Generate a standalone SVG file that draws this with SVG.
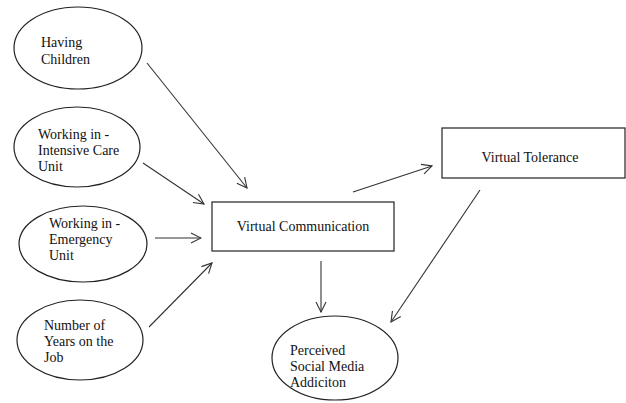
<svg xmlns="http://www.w3.org/2000/svg" width="626" height="403" viewBox="0 0 626 403">
<style>
.n{fill:#fff;stroke:#222;stroke-width:1.2}
.t{font-family:'Liberation Serif','Times New Roman',Times,serif;font-size:14px;fill:#111}
.c{fill:none;stroke:#333;stroke-width:1.1}
</style>
<defs>
<marker id="ah" viewBox="0 0 12 12" refX="11" refY="6" markerWidth="12" markerHeight="12" markerUnits="userSpaceOnUse" orient="auto">
<polyline points="1,1 11,6 1,11" fill="none" stroke="#333" stroke-width="1.1"/>
</marker>
</defs>
<rect width="626" height="403" fill="#fff"/>
<g id="connectors">
<line class="c" x1="147" y1="63" x2="247" y2="188" marker-end="url(#ah)"/>
<line class="c" x1="143" y1="163" x2="204" y2="204" marker-end="url(#ah)"/>
<line class="c" x1="155" y1="238" x2="201" y2="238" marker-end="url(#ah)"/>
<line class="c" x1="149" y1="327" x2="212" y2="263" marker-end="url(#ah)"/>
<line class="c" x1="353" y1="192" x2="432" y2="166" marker-end="url(#ah)"/>
<line class="c" x1="321" y1="261" x2="321" y2="312" marker-end="url(#ah)"/>
<line class="c" x1="480" y1="190" x2="391" y2="322" marker-end="url(#ah)"/>
</g>
<g id="having-children">
<ellipse class="n" cx="78" cy="48" rx="64" ry="41"/>
<text class="t" x="41" y="47">Having</text>
<text class="t" x="41" y="64">Children</text>
</g>
<g id="icu">
<ellipse class="n" cx="77" cy="147" rx="63" ry="40"/>
<text class="t" x="38" y="139">Working in -</text>
<text class="t" x="38" y="155">Intensive Care</text>
<text class="t" x="38" y="171">Unit</text>
</g>
<g id="emergency">
<ellipse class="n" cx="83" cy="244" rx="64" ry="38"/>
<text class="t" x="49" y="228">Working in -</text>
<text class="t" x="49" y="244">Emergency</text>
<text class="t" x="49" y="260">Unit</text>
</g>
<g id="years">
<ellipse class="n" cx="80" cy="340" rx="63" ry="40"/>
<text class="t" x="44" y="330">Number of</text>
<text class="t" x="44" y="346">Years on the</text>
<text class="t" x="44" y="362">Job</text>
</g>
<g id="virtual-communication">
<rect class="n" x="212" y="202" width="182" height="49"/>
<text class="t" x="303" y="231" text-anchor="middle">Virtual Communication</text>
</g>
<g id="virtual-tolerance">
<rect class="n" x="442" y="128" width="183" height="50"/>
<text class="t" x="530" y="162" text-anchor="middle">Virtual Tolerance</text>
</g>
<g id="perceived-social-media-addiction">
<ellipse class="n" cx="335" cy="358" rx="63" ry="42"/>
<text class="t" x="290" y="355">Perceived</text>
<text class="t" x="290" y="371">Social Media</text>
<text class="t" x="290" y="387">Addiciton</text>
</g>
</svg>
